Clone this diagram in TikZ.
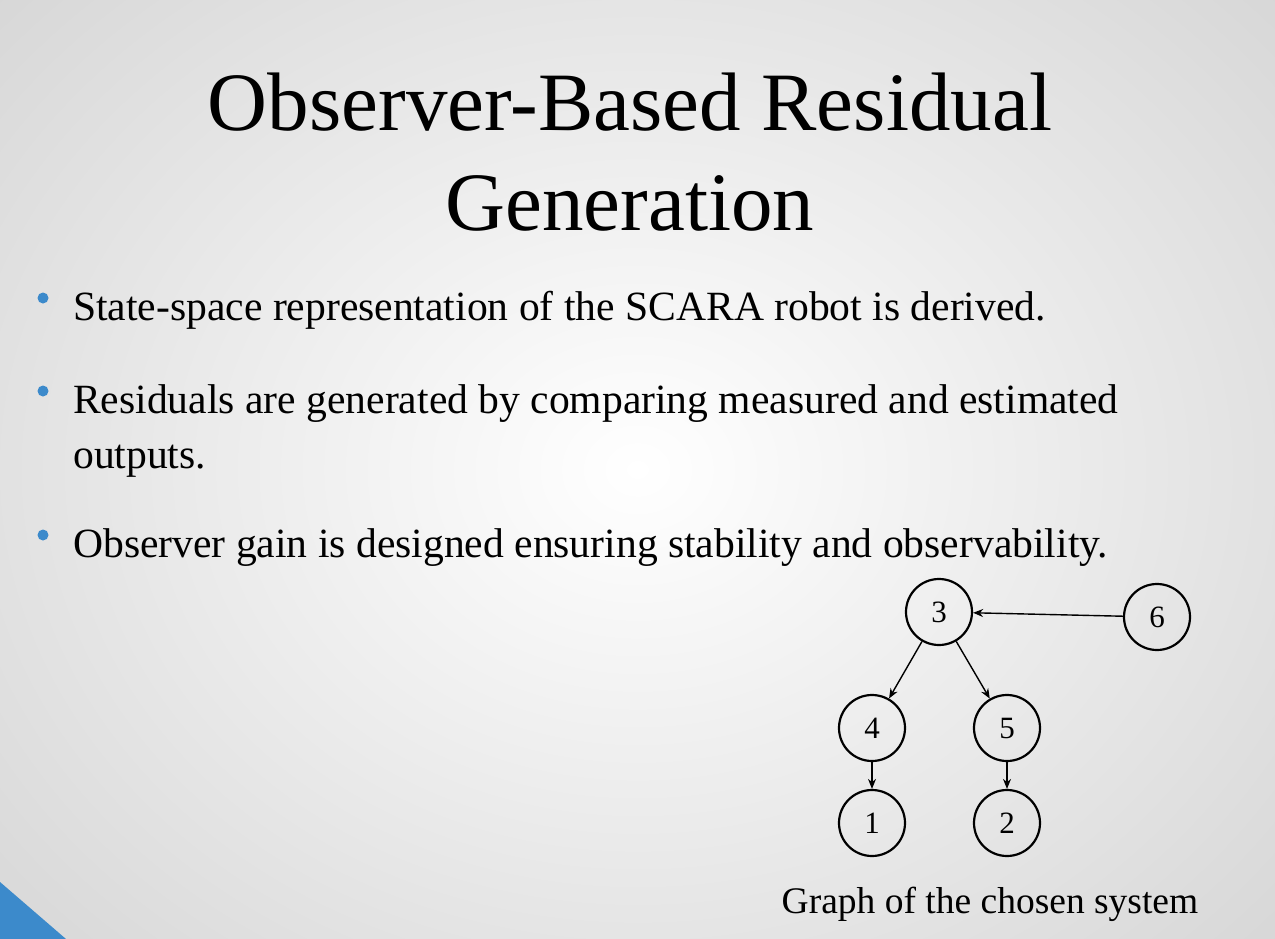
\documentclass[tikz,border=0pt]{standalone}
\usepackage{fontspec}
\setmainfont{Liberation Serif}
\usetikzlibrary{arrows.meta}
\definecolor{slideblue}{HTML}{3C8ACB}
\begin{document}
\begin{tikzpicture}[x=1pt,y=-1pt,
  vtx/.style={circle,draw,line width=2.2pt,minimum size=66pt,inner sep=0pt,font=\fontsize{31}{36}\selectfont},
  edge/.style={-{Stealth[length=10pt,width=8pt]},line width=1.4pt},
  bul/.style={anchor=base west,font=\fontsize{41.6}{56}\selectfont,align=left,inner sep=0pt}]
\useasboundingbox (0,0) rectangle (1275,939);
\shade[inner color=white,outer color=black!17] (-300,-300) rectangle (1575,1239);
\fill[slideblue] (0,882) -- (66,939) -- (0,939) -- cycle;
\node[anchor=base,font=\fontsize{83}{100}\selectfont,inner sep=0pt] (t1) at (630,131) {Observer-Based Residual};
\node[anchor=base,font=\fontsize{83}{100}\selectfont,inner sep=0pt] (t2) at (630,230) {Generation};
\foreach \y in {298,391,535} \fill[slideblue] (43,\y) circle (5.5pt);
\node[bul] (b1) at (73,320) {State-space representation of the SCARA robot is derived.};
\node[bul] (b2) at (73,413) {Residuals are generated by comparing measured and estimated};
\node[bul] (b2b) at (73,468) {outputs.};
\node[bul] (b3) at (73,557) {Observer gain is designed ensuring stability and observability.};
\node[vtx] (n3) at (939,612) {3};
\node[vtx] (n6) at (1157,617) {6};
\node[vtx] (n4) at (872,728) {4};
\node[vtx] (n5) at (1007,728) {5};
\node[vtx] (n1) at (872,823) {1};
\node[vtx] (n2) at (1007,823) {2};
\draw[edge] (n6) -- (n3);
\draw[edge] (n3) -- (n4);
\draw[edge] (n3) -- (n5);
\draw[edge] (n4) -- (n1);
\draw[edge] (n5) -- (n2);
\node[anchor=base,font=\fontsize{37.5}{40}\selectfont,inner sep=0pt] (cap) at (990,913) {Graph of the chosen system};
\end{tikzpicture}
\end{document}
